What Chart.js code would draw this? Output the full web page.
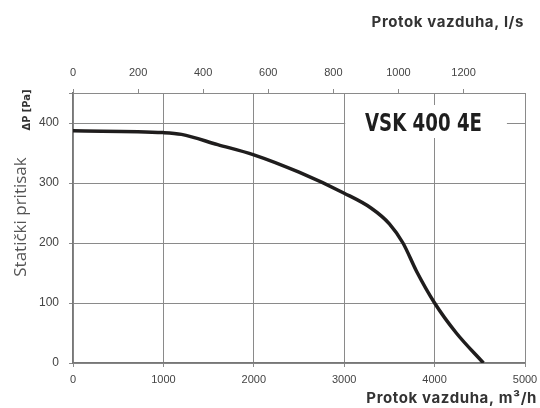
<!DOCTYPE html>
<html>
<head>
<meta charset="utf-8">
<script src="https://cdn.jsdelivr.net/npm/chart.js@4"></script>
<style>
  html, body { margin: 0; padding: 0; background: #fff; }
  #wrap { width: 540px; height: 408px; }
</style>
</head>
<body>
<div id="wrap"><canvas id="grafik" width="540" height="408"></canvas></div>
<script>
// podaci sa krive (protok m3/h -> staticki pritisak Pa)
var protokM3h = [0, 1000, 1200, 1600, 2000, 2500, 3000, 3300, 3500, 3650, 3800, 4000, 4240, 4540]
var pritisakPa = [387, 384, 381, 364, 347, 318, 283, 258, 232, 200, 153, 100, 50, 0]

var xTicks = [0, 1000, 2000, 3000, 4000, 5000]
var yTicks = [0, 100, 200, 300, 400]
var lsTicks = [0, 200, 400, 600, 800, 1000, 1200]

var naziv = 'VSK 400 4E'

var sivaMreza = '#8a8a8a'
var tickFont = { family: '"Liberation Sans", Arial, sans-serif', size: 11 }

function bezZareza(v) { return String(v) } // bez separatora hiljada

// plugin za natpise i okvir
var natpisi = {
  id: 'natpisi',
  afterDatasetsDraw: function(chart) {
    var ctx = chart.ctx
    var a = chart.chartArea
    var x = chart.scales.x
    var y = chart.scales.y
    ctx.save()

    // desna ivica
    ctx.strokeStyle = sivaMreza
    ctx.lineWidth = 1
    ctx.beginPath()
    ctx.moveTo(a.right + 0.5, a.top)
    ctx.lineTo(a.right + 0.5, a.bottom + 4)
    ctx.stroke()

    // okvir sa nazivom
    var x1 = x.getPixelForValue(3000) + 1
    var x2 = x.getPixelForValue(4800)
    var y1 = y.getPixelForValue(430)
    var y2 = y.getPixelForValue(375)
    ctx.fillStyle = '#fff'
    ctx.fillRect(x1, y1, x2 - x1, y2 - y1)
    ctx.font = 'bold 25px "DejaVu Sans", sans-serif'
    var w = ctx.measureText(naziv).width
    var sx = 117 / w
    ctx.save()
    ctx.translate(365, y.getPixelForValue(400) + 1)
    ctx.scale(sx, 1)
    ctx.fillStyle = '#1e1e1e'
    ctx.textAlign = 'left'
    ctx.textBaseline = 'middle'
    ctx.fillText(naziv, 0, 0)
    ctx.restore()

    // naslovi osa
    ctx.fillStyle = '#333'
    ctx.font = 'bold 15px Inter, "Noto Sans", sans-serif'
    ctx.letterSpacing = '0.6px'
    ctx.textAlign = 'right'
    ctx.textBaseline = 'middle'
    ctx.fillText('Protok vazduha, l/s', 524, 22)
    ctx.fillText('Protok vazduha, m³/h', 537, 398)
    ctx.letterSpacing = '0px'

    ctx.translate(21, 217)
    ctx.rotate(-Math.PI / 2)
    ctx.textAlign = 'center'
    ctx.fillStyle = '#555'
    ctx.font = '17px "Open Sans", sans-serif'
    ctx.fillText('Statički pritisak', 0, 0)
    ctx.restore()

    ctx.save()
    ctx.translate(27, 110)
    ctx.rotate(-Math.PI / 2)
    ctx.textAlign = 'center'
    ctx.textBaseline = 'middle'
    ctx.fillStyle = '#333'
    ctx.font = 'bold 11px "DejaVu Sans Condensed", sans-serif'
    ctx.fillText('ΔP [Pa]', 0, 0)
    ctx.restore()
  }
}

var ctx = document.getElementById('grafik').getContext('2d')
var grafik = new Chart(ctx, {
  type: 'line',
  data: {
    datasets: [{
      data: protokM3h.map(function(v, i) { return { x: v, y: pritisakPa[i] } }),
      borderColor: '#1f1d1d',
      borderWidth: 3.5,
      pointRadius: 0,
      fill: false,
      cubicInterpolationMode: 'monotone'
    }]
  },
  options: {
    responsive: false,
    animation: false,
    layout: { padding: { left: 0, right: 15, top: 0, bottom: 0 } },
    plugins: {
      legend: { display: false },
      tooltip: { enabled: false }
    },
    scales: {
      x: {
        type: 'linear',
        position: 'bottom',
        min: 0,
        max: 5000,
        afterBuildTicks: function(s) { s.ticks = xTicks.map(function(v) { return { value: v } }) },
        afterFit: function(s) { s.height = 45; s.paddingLeft = 0; s.paddingRight = 0 },
        grid: { color: sivaMreza, lineWidth: 1, tickLength: 4 },
        border: { color: '#777', width: 1.3 },
        ticks: { color: '#444', font: tickFont, padding: 6, maxRotation: 0, callback: bezZareza }
      },
      xTop: {
        type: 'linear',
        axis: 'x',
        position: 'top',
        min: 0,
        max: 5000 / 3.6,
        afterBuildTicks: function(s) { s.ticks = lsTicks.map(function(v) { return { value: v } }) },
        afterFit: function(s) { s.height = 93; s.paddingLeft = 0; s.paddingRight = 0 },
        grid: { drawOnChartArea: false, color: sivaMreza, tickLength: 4 },
        border: { color: sivaMreza, width: 1 },
        ticks: { color: '#444', font: tickFont, padding: 9, maxRotation: 0, callback: bezZareza }
      },
      y: {
        min: 0,
        max: 450,
        afterBuildTicks: function(s) { s.ticks = yTicks.concat([450]).map(function(v) { return { value: v } }) },
        afterFit: function(s) { s.width = 73 },
        grid: { color: sivaMreza, lineWidth: 1, tickLength: 4 },
        border: { color: '#777', width: 1.3 },
        ticks: {
          color: '#444',
          font: { family: tickFont.family, size: 12 },
          padding: 10,
          callback: function(v) { return v === 450 ? '' : String(v) }
        }
      }
    }
  },
  plugins: [natpisi]
})
</script>
</body>
</html>
